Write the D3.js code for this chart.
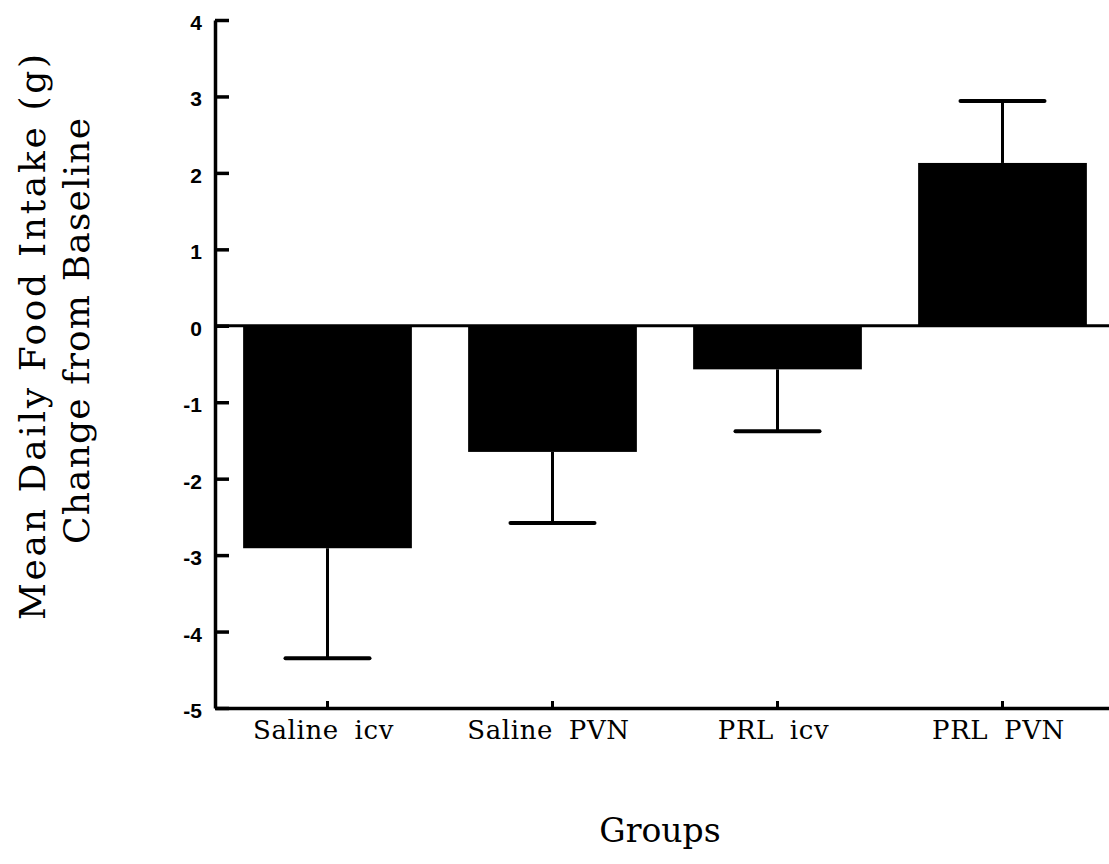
<!DOCTYPE html>
<html>
<head>
<meta charset="utf-8">
<script src="https://cdn.jsdelivr.net/npm/d3@7"></script>
<style>
  html, body { margin: 0; padding: 0; background: #fff; }
  svg { display: block; }
</style>
</head>
<body>
<svg id="chart" width="1109" height="864"></svg>
<script>
const categories = ["Saline icv", "Saline PVN", "PRL icv", "PRL PVN"];
const means = [-2.91, -1.65, -0.57, 2.13];
const errorEnds = [-4.35, -2.58, -1.38, 2.94];
const yTicks = [4, 3, 2, 1, 0, -1, -2, -3, -4, -5];
const yTitleLines = ["Mean Daily Food Intake (g)", "Change from Baseline"];
const xTitle = "Groups";

const svg = d3.select("#chart");
const W = 1109;

const y = d3.scaleLinear().domain([-5, 4]).range([708, 20]);
const x = d3.scaleBand().domain(categories).range([215, 1115]).paddingInner(0.25).paddingOuter(0.125);

// Y axis
const yAxis = d3.axisLeft(y).tickValues(yTicks).tickSizeInner(-14).tickSizeOuter(0).tickPadding(13)
  .tickFormat(d3.format("d"));
const gy = svg.append("g").attr("transform", "translate(215,0)").call(yAxis);
gy.attr("font-size", null).attr("font-family", null);
gy.select(".domain").attr("stroke", "#000").attr("stroke-width", 3.5);
gy.selectAll(".tick line").attr("stroke", "#000").attr("stroke-width", 3.5);
gy.selectAll(".tick text")
  .attr("font-family", "'Liberation Sans', Arial, sans-serif")
  .attr("font-weight", "bold")
  .attr("font-size", 21)
  .attr("fill", "#000")
  .attr("dy", "0.45em")
  .text(d => d < 0 ? "-" + Math.abs(d) : d);

// X axis
const xAxis = d3.axisBottom(x).tickSizeInner(-7).tickSizeOuter(0).tickPadding(13);
const gx = svg.append("g").attr("transform", "translate(0,708)").call(xAxis);
gx.attr("font-size", null).attr("font-family", null);
gx.select(".domain").attr("stroke", "#000").attr("stroke-width", 3.5);
gx.selectAll(".tick line").attr("stroke", "#000").attr("stroke-width", 3);
gx.selectAll(".tick text")
  .attr("font-family", "'DejaVu Serif', serif")
  .attr("font-size", 26)
  .attr("fill", "#000")
  .attr("dx", -4)
  .style("word-spacing", "7px")
  .style("letter-spacing", "0.6px");

// Bars
svg.append("g").selectAll("rect").data(categories).join("rect")
  .attr("x", d => x(d))
  .attr("width", x.bandwidth())
  .attr("y", (d, i) => y(Math.max(0, means[i])))
  .attr("height", (d, i) => Math.abs(y(means[i]) - y(0)))
  .attr("fill", "#000");

// Zero line
svg.append("line")
  .attr("x1", 215).attr("x2", W)
  .attr("y1", y(0)).attr("y2", y(0))
  .attr("stroke", "#000").attr("stroke-width", 3);

// Error bars
const eg = svg.append("g");
categories.forEach((c, i) => {
  const cx = x(c) + x.bandwidth() / 2;
  eg.append("line")
    .attr("x1", cx).attr("x2", cx)
    .attr("y1", y(means[i])).attr("y2", y(errorEnds[i]))
    .attr("stroke", "#000").attr("stroke-width", 3);
  eg.append("line")
    .attr("x1", cx - 42).attr("x2", cx + 42)
    .attr("y1", y(errorEnds[i])).attr("y2", y(errorEnds[i]))
    .attr("stroke", "#000").attr("stroke-width", 4).attr("stroke-linecap", "round");
});

// Y title
const yt = svg.append("g");
yTitleLines.forEach((t, i) => {
  const tx = i === 0 ? 45 : 89;
  const ty = i === 0 ? 337 : 331;
  yt.append("text")
    .attr("transform", `translate(${tx},${ty}) rotate(-90)`)
    .attr("text-anchor", "middle")
    .attr("font-family", "'DejaVu Serif', serif")
    .attr("font-size", 36)
    .attr("fill", "#000")
    .attr("textLength", i === 0 ? 566 : 426)
    .attr("lengthAdjust", "spacing")
    .text(t);
});

// X title
svg.append("text")
  .attr("x", 660).attr("y", 842)
  .attr("text-anchor", "middle")
  .attr("font-family", "'DejaVu Serif', serif")
  .attr("font-size", 33)
  .attr("fill", "#000")
  .text(xTitle);
</script>
</body>
</html>
